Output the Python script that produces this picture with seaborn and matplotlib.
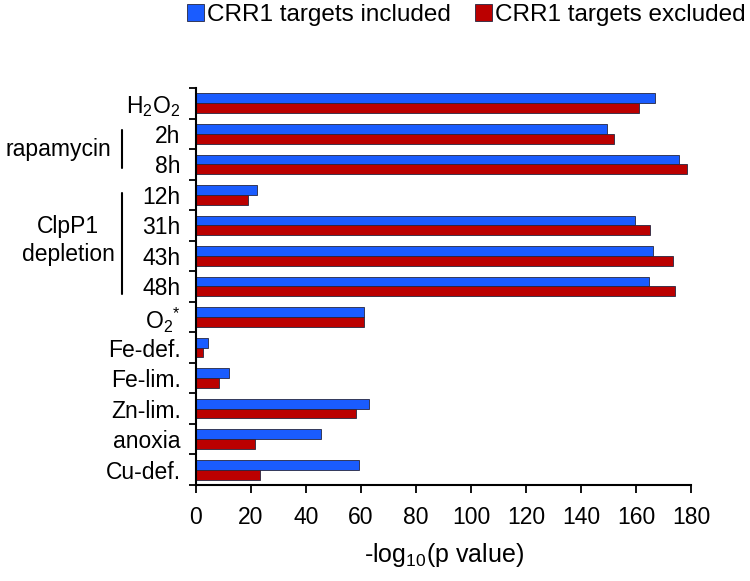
import matplotlib
matplotlib.use("Agg")
import matplotlib.pyplot as plt
import matplotlib.transforms as mtransforms
from matplotlib.ticker import FixedLocator
import seaborn as sns
import pandas as pd

# ---- data ----
conditions = [r'H$_\mathregular{2}$O$_\mathregular{2}$', '2h', '8h', '12h', '31h', '43h', '48h',
              r'O$_\mathregular{2}$$^\mathregular{*}$', 'Fe-def.', 'Fe-lim.', 'Zn-lim.', 'anoxia', 'Cu-def.']
included = [166.8, 149.3, 175.6, 22.0, 159.6, 166.1, 164.9, 61.1, 4.3, 12.0, 62.8, 45.6, 59.4]
excluded = [161.1, 152.1, 178.4, 18.9, 165.1, 173.4, 174.2, 61.1, 2.6, 8.5, 58.3, 21.6, 23.1]
series_names = ['CRR1 targets included', 'CRR1 targets excluded']
xticks = [0, 20, 40, 60, 80, 100, 120, 140, 160, 180]

df = pd.DataFrame({
    'condition': conditions * 2,
    'value': included + excluded,
    'series': [series_names[0]] * len(conditions) + [series_names[1]] * len(conditions),
})

sns.set_style('white')
plt.rcParams['font.family'] = ['Liberation Sans', 'DejaVu Sans']
plt.rcParams['mathtext.fontset'] = 'custom'
plt.rcParams['mathtext.rm'] = 'Liberation Sans'
plt.rcParams['mathtext.it'] = 'Liberation Sans:italic'
plt.rcParams['mathtext.bf'] = 'Liberation Sans:bold'
for k in ['text.color', 'axes.labelcolor', 'xtick.color', 'ytick.color']:
    plt.rcParams[k] = 'black'

fig = plt.figure(figsize=(7.5, 5.81), dpi=100)
ax = fig.add_axes([196 / 750, 1 - 485 / 581, 495 / 750, 397 / 581])

sns.barplot(data=df, y='condition', x='value', hue='series', orient='h',
            order=conditions, hue_order=series_names,
            palette=['#1a5cff', '#bb0000'], saturation=1, width=0.64,
            edgecolor='#262640', linewidth=0.6, ax=ax)

ax.set_xlim(0, 180)
ax.set_ylim(len(conditions) - 0.5, -0.5)
ax.xaxis.set_major_locator(FixedLocator(xticks))
ax.set_xticklabels([str(t) for t in xticks])
ax.yaxis.set_minor_locator(FixedLocator([i - 0.5 for i in range(len(conditions) + 1)]))
ax.tick_params(axis='y', which='major', length=0, pad=11, labelsize=16.5)
ax.tick_params(axis='y', which='minor', length=5, width=1.3, direction='out', left=True)
ax.tick_params(axis='x', which='major', length=6, width=1.3, direction='out', bottom=True,
               labelsize=16.5, pad=9)
ax.set_ylabel('')
ax.set_xlabel(r'-log$_\mathregular{10}$(p value)', fontsize=18, labelpad=9)
for s in ['top', 'right']:
    ax.spines[s].set_visible(False)
for s in ['left', 'bottom']:
    ax.spines[s].set_color('black')
    ax.spines[s].set_linewidth(1.5)

# legend on top
sns.move_legend(ax, 'upper center', bbox_to_anchor=(0.622, 1.03), bbox_transform=fig.transFigure,
                ncol=2, frameon=False, title=None, fontsize=17.5,
                handlelength=0.7, handleheight=0.7, handletextpad=0.12, columnspacing=1.0)

# group brackets
trans = mtransforms.blended_transform_factory(ax.transAxes, ax.transData)
line_x = (122 - 196) / 495
ax.plot([line_x, line_x], [0.86, 2.12], color='black', lw=1.5, transform=trans, clip_on=False)
ax.plot([line_x, line_x], [2.95, 6.25], color='black', lw=1.5, transform=trans, clip_on=False)
ax.text(line_x - 0.022, 1.5, 'rapamycin', transform=trans, ha='right', va='center', fontsize=16.5)
ax.text((68 - 196) / 495, 4.5, 'ClpP1\ndepletion', transform=trans, ha='center', va='center',
        fontsize=16.5, linespacing=1.3)

fig.savefig('out.png', dpi=100)
